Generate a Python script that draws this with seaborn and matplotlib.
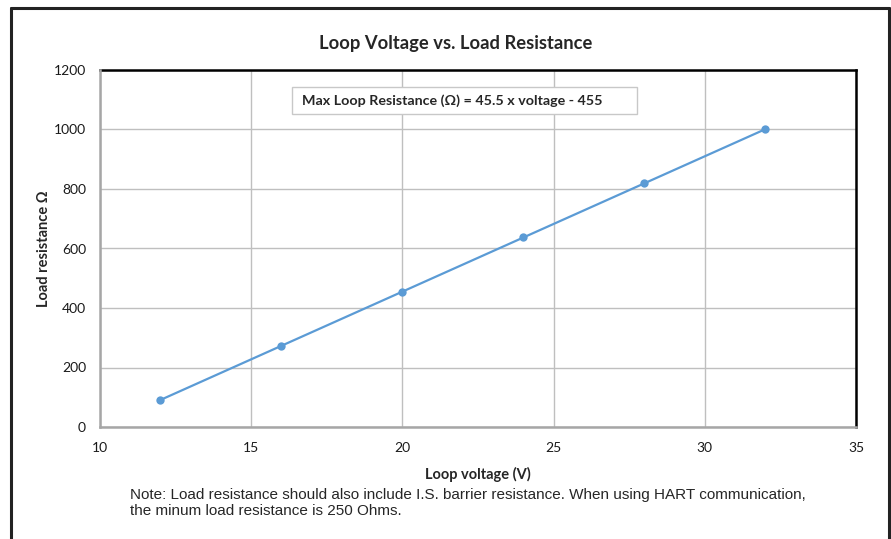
import numpy as np
import pandas as pd
import seaborn as sns
import matplotlib.pyplot as plt
from matplotlib.lines import Line2D
from matplotlib.patches import Rectangle

# data
voltage = [12, 16, 20, 24, 28, 32]
resistance = [91, 273, 455, 637, 819, 1001]
x_ticks = [10, 15, 20, 25, 30, 35]
y_ticks = [0, 200, 400, 600, 800, 1000, 1200]

df = pd.DataFrame({'voltage': voltage, 'resistance': resistance})

sns.set_theme(style='white')
plt.rcParams['font.family'] = ['Lato', 'DejaVu Sans']

fig = plt.figure(figsize=(8.91, 5.39), dpi=100)
ax = fig.add_axes([100 / 891, 1 - 427 / 539, 756 / 891, 357 / 539])

blue = '#5B9BD5'
sns.lineplot(data=df, x='voltage', y='resistance', ax=ax, color=blue,
             linewidth=1.6, marker='o', markersize=6, markeredgewidth=0,
             zorder=3)

ax.set_xlim(10, 35)
ax.set_ylim(0, 1200)
ax.set_xticks(x_ticks)
ax.set_yticks(y_ticks)
ax.tick_params(axis='x', labelsize=10, length=0, pad=11, colors='#1a1a1a')
ax.tick_params(axis='y', labelsize=10, length=0, pad=10, colors='#1a1a1a')
ax.grid(True, color='#BFBFBF', linewidth=1)

for side in ['top', 'right']:
    ax.spines[side].set_color('black')
    ax.spines[side].set_linewidth(1.8)
for side in ['left', 'bottom']:
    ax.spines[side].set_color('#A6A6A6')
    ax.spines[side].set_linewidth(1.8)
    ax.spines[side].set_zorder(4)

ax.set_xlabel('Loop voltage (V)', fontsize=10.5, fontweight='bold', labelpad=9)
ax.set_ylabel('Load resistance \u03a9', fontsize=10.5, fontweight='bold', labelpad=2)

fig.text(456 / 891, 1 - 44 / 539, 'Loop Voltage vs. Load Resistance',
         ha='center', va='center', fontsize=13.2, fontweight='bold')

# equation box
fig.patches.append(Rectangle((292 / 891, 1 - 114 / 539), 345 / 891, 27 / 539,
                             transform=fig.transFigure, facecolor='white',
                             edgecolor='#C8C8C8', linewidth=1, zorder=5))
fig.text(302 / 891, 1 - 101 / 539, 'Max Loop Resistance (\u03a9) = 45.5 x voltage - 455',
         ha='left', va='center', fontsize=10.3, fontweight='bold', zorder=6)

note = ('Note: Load resistance should also include I.S. barrier resistance. When using HART communication,\n'
        'the minum load resistance is 250 Ohms.')
fig.text(130 / 891, 1 - 503 / 539, note, ha='left', va='center', fontsize=11,
         family=['Liberation Sans', 'DejaVu Sans'], linespacing=1.25)

# outer frame (left, top, right)
frame = dict(transform=fig.transFigure, color='#222222', linewidth=2.2)
fig.lines.append(Line2D([11 / 891, 11 / 891], [0, 1 - 8 / 539], **frame))
fig.lines.append(Line2D([11 / 891, 889 / 891], [1 - 8 / 539, 1 - 8 / 539], **frame))
fig.lines.append(Line2D([889 / 891, 889 / 891], [0, 1 - 8 / 539], **frame))

fig.savefig('out.png', dpi=100)
